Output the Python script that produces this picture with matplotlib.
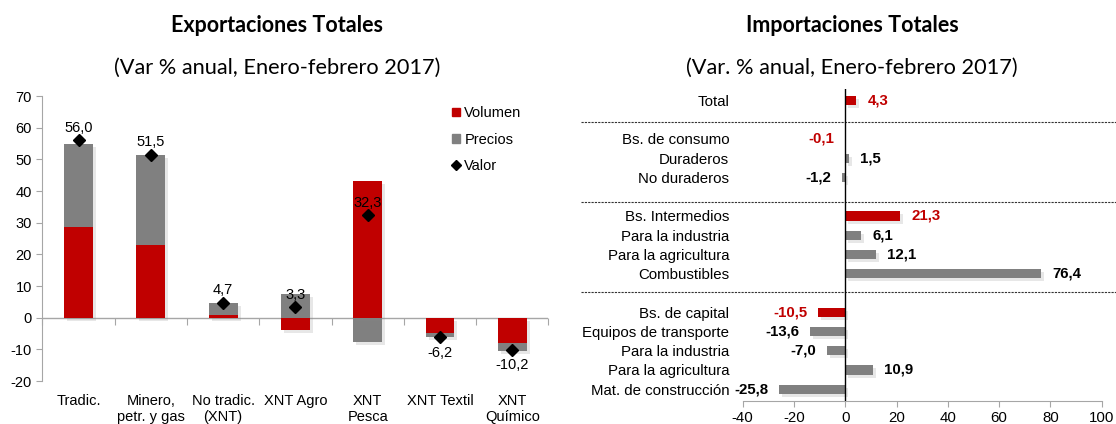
import numpy as np
import matplotlib.pyplot as plt
import matplotlib.patheffects as pe
from matplotlib.patches import Patch
from matplotlib.lines import Line2D

# --- Exportaciones (Var % anual) ---
exp_cats = ['Tradic.', 'Minero,\npetr. y gas', 'No tradic.\n(XNT)', 'XNT Agro',
            'XNT\nPesca', 'XNT Textil', 'XNT\nQuímico']
exp_volumen = [28.5, 23.0, 0.9, -4.0, 43.2, -4.7, -8.0]
exp_precios = [26.3, 28.3, 3.7, 7.5, -7.6, -1.5, -2.4]
exp_valor = [56.0, 51.5, 4.7, 3.3, 32.3, -6.2, -10.2]

# --- Importaciones (Var. % anual) ---
imp_labels = ['Total', 'Bs. de consumo', 'Duraderos', 'No duraderos',
              'Bs. Intermedios', 'Para la industria', 'Para la agricultura', 'Combustibles',
              'Bs. de capital', 'Equipos de transporte', 'Para la industria',
              'Para la agricultura', 'Mat. de construcción']
imp_values = [4.3, -0.1, 1.5, -1.2, 21.3, 6.1, 12.1, 76.4, -10.5, -13.6, -7.0, 10.9, -25.8]
imp_is_group = [True, True, False, False, True, False, False, False, True, False, False, False, False]
imp_rows = [0, 2, 3, 4, 6, 7, 8, 9, 11, 12, 13, 14, 15]
imp_separators = [1.1, 5.3, 9.95]

RED = '#C00000'
GRAY = '#808080'
AXC = '#A6A6A6'

def fmt(v):
    return f'{v:.1f}'.replace('.', ',')

plt.rcParams['font.family'] = ['Liberation Sans', 'DejaVu Sans']
plt.rcParams['font.size'] = 10.5
plt.rcParams['axes.unicode_minus'] = False

shadow = [pe.SimplePatchShadow(offset=(2.2, -2.2), shadow_rgbFace='#888888', alpha=0.2), pe.Normal()]

fig = plt.figure(figsize=(11.16, 4.24), dpi=100)

# ---------------- left chart ----------------
ax = fig.add_axes([0.038, 0.1014, 0.4534, 0.672])
x = np.arange(len(exp_cats))
vol = np.array(exp_volumen)
pre = np.array(exp_precios)
# stack positives on positives, negatives on negatives
pre_bottom = np.where(np.sign(pre) == np.sign(vol), vol, 0)
b2 = ax.bar(x, pre, width=0.4, bottom=pre_bottom, color=GRAY, zorder=2)
b1 = ax.bar(x, vol, width=0.4, color=RED, zorder=2.5)
for p in list(b1) + list(b2):
    p.set_path_effects(shadow)
ax.plot(x, exp_valor, linestyle='none', marker='D', markersize=6.5, color='black', zorder=4)
for xi, v in zip(x, exp_valor):
    if v >= 0:
        ax.annotate(fmt(v), (xi, v), xytext=(0, 4), textcoords='offset points',
                    ha='center', va='bottom', fontsize=10.5)
    else:
        ax.annotate(fmt(v), (xi, v), xytext=(0, -6), textcoords='offset points',
                    ha='center', va='top', fontsize=10.5)

ax.set_xlim(-0.5, len(exp_cats) - 0.5)
ax.set_ylim(-20, 70)
ax.set_yticks(np.arange(-20, 71, 10))
ax.spines[['top', 'right', 'bottom']].set_visible(False)
ax.spines['left'].set_color(AXC)
ax.tick_params(axis='y', colors=AXC, length=4, labelcolor='black', labelsize=10.5)
ax.set_xticks(x, exp_cats)
ax.tick_params(axis='x', length=0, pad=9, labelsize=10.5)
ax.axhline(0, color=AXC, linewidth=1, zorder=1)
# category boundary ticks on the zero line
zero_frac = (0 - ax.get_ylim()[0]) / (ax.get_ylim()[1] - ax.get_ylim()[0])
sec = ax.secondary_xaxis(zero_frac)
sec.set_xticks(np.arange(len(exp_cats) + 1) - 0.5, [''] * (len(exp_cats) + 1))
sec.tick_params(length=5, direction='out', colors=AXC)
sec.spines['bottom'].set_visible(False)
sec.spines['top'].set_visible(False)

handles = [Patch(color=RED, label='Volumen'), Patch(color=GRAY, label='Precios'),
           Line2D([], [], linestyle='none', marker='D', color='black', markersize=5, label='Valor')]
ax.legend(handles=handles, loc='upper left', bbox_to_anchor=(0.795, 0.99), frameon=False,
          borderpad=0, handlelength=0.55, handleheight=0.55, handletextpad=0.3,
          labelspacing=0.85, fontsize=10.5)

fig.text(0.2484, 0.939, 'Exportaciones Totales', ha='center', va='center',
         fontsize=15.5, fontweight='bold', family='Lato')
fig.text(0.2484, 0.841, '(Var % anual, Enero-febrero 2017)', ha='center', va='center',
         fontsize=15.7, family='Lato')

# ---------------- right chart ----------------
ax2 = fig.add_axes([0.6655, 0.055, 0.3217, 0.7353])
colors = [RED if g else GRAY for g in imp_is_group]
bars = ax2.barh(imp_rows, imp_values, height=0.48, color=colors, zorder=2)
for p in bars:
    p.set_path_effects(shadow)
for r, v, g in zip(imp_rows, imp_values, imp_is_group):
    ax2.annotate(fmt(v), (v, r), xytext=(8 if v >= 0 else -8, 0), textcoords='offset points',
                 ha='left' if v >= 0 else 'right', va='center', fontsize=10.8,
                 fontweight='bold', color=RED if g else 'black')
ax2.set_xlim(-40, 100)
ax2.set_ylim(15.6, -0.6)
ax2.set_yticks(imp_rows, imp_labels)
ax2.tick_params(axis='y', length=0, pad=9.6, labelsize=10.8)
ax2.set_xticks(np.arange(-40, 101, 20))
ax2.tick_params(axis='x', length=4, colors=AXC, labelcolor='black', labelsize=10.8)
ax2.spines[['top', 'right', 'left']].set_visible(False)
ax2.spines['bottom'].set_color(AXC)
ax2.axvline(0, color='black', linewidth=1, zorder=3)
for s in imp_separators:
    ax2.axhline(s, xmin=-0.45, xmax=1.04, color='#333333', linestyle=(0, (2, 1)),
                linewidth=0.8, clip_on=False)

fig.text(0.7636, 0.939, 'Importaciones Totales', ha='center', va='center',
         fontsize=15.5, fontweight='bold', family='Lato')
fig.text(0.7636, 0.841, '(Var. % anual, Enero-febrero 2017)', ha='center', va='center',
         fontsize=15.7, family='Lato')

fig.savefig('out.png', dpi=100)
